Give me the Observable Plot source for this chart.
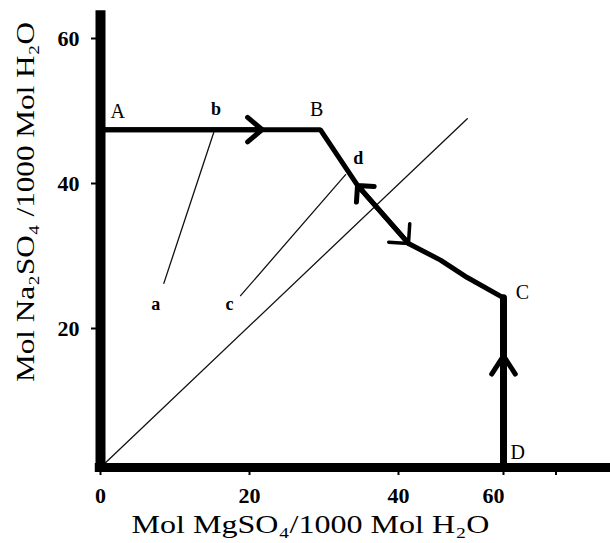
<!DOCTYPE html>
<html><head><meta charset="utf-8">
<script src="https://cdn.jsdelivr.net/npm/d3@7"></script>
<script src="https://cdn.jsdelivr.net/npm/@observablehq/plot@0.6"></script>
<style>body{margin:0;background:#fff} svg{display:block;background:#fff}</style>
</head><body><div id="chart"></div>
<script>
// ---- data ----
const xTicks = [0, 20, 40];
const xTickLast = [60];
const xTickMarks = [0, 20, 40, 60, 70];
const yTicks = [20, 40, 60];
const xTitle = "Mol MgSO₄/1000 Mol H₂O";
const yTitle = "Mol Na₂SO₄ /1000 Mol H₂O";

// crystallisation path A -> B -> C -> D  (x: MgSO4, y: Na2SO4)
const pathX = [0, 29.5, 34.5, 41.9, 48.0, 53.1, 60];
const pathY = [46.6, 46.6, 38.9, 30.9, 28.6, 26.2, 23.4];
const cdX = [60, 60];
const cdY = [23.4, 0];

// thin lines
const diagX = [0, 53.1];
const diagY = [0, 48.1];
const abX = [15.2, 8.5];
const abY = [46.2, 25.4];
const cdLineX = [32.9, 18.8];
const cdLineY = [40.4, 23.7];

// arrows (from -> tip)
const arrowAB = {x1: 0, y1: 46.6, x2: 21.7, y2: 46.6};
const arrowUp = {x1: 41.9, y1: 30.9, x2: 34.5, y2: 38.9};
const arrowDown = {x1: 34.5, y1: 38.9, x2: 41.9, y2: 30.9};
const arrowDC = {x1: 60, y1: 0, x2: 60, y2: 15.4};

// point labels
const upperLabels = ["A", "B", "C", "D"];
const upperX = [2.3, 29.0, 63.6, 62.7];
const upperY = [49.1, 49.4, 24.1, 2.1];
const lowerLabels = ["a", "b", "c", "d"];
const lowerX = [7.4, 15.5, 17.3, 34.6];
const lowerY = [22.5, 49.4, 22.5, 42.6];

const seq = (arr) => arr.map((_, i) => i);

const chart = Plot.plot({
  width: 610,
  height: 543,
  marginLeft: 96,
  marginRight: 0,
  marginTop: 10,
  marginBottom: 72,
  style: {fontFamily: "'Liberation Serif', 'Times New Roman', serif", fontSize: "22px", fontWeight: "bold", color: "#000", background: "#fff"},
  x: {type: "linear", domain: [0, 40, 60], range: [100, 398, 503]},
  y: {type: "linear", domain: [0, 60], range: [467, 32]},
  marks: [
    // thin guide lines
    Plot.line(seq(diagX), {x: i => diagX[i], y: i => diagY[i], stroke: "#111", strokeWidth: 1.3}),
    Plot.line(seq(abX), {x: i => abX[i], y: i => abY[i], stroke: "#111", strokeWidth: 1.3}),
    Plot.line(seq(cdLineX), {x: i => cdLineX[i], y: i => cdLineY[i], stroke: "#111", strokeWidth: 1.3}),
    // main path
    Plot.line(seq(pathX), {x: i => pathX[i], y: i => pathY[i], stroke: "#000", strokeWidth: 5, strokeLinejoin: "miter"}),
    Plot.line(seq(cdX), {x: i => cdX[i], y: i => cdY[i], stroke: "#000", strokeWidth: 7}),
    // arrows
    Plot.arrow([arrowAB], {x1: "x1", y1: "y1", x2: "x2", y2: "y2", stroke: "#000", strokeWidth: 5, headLength: 5.7, headAngle: 80}),
    Plot.arrow([arrowUp], {x1: "x1", y1: "y1", x2: "x2", y2: "y2", stroke: "#000", strokeWidth: 5, headLength: 5, headAngle: 90}),
    Plot.arrow([arrowDown], {x1: "x1", y1: "y1", x2: "x2", y2: "y2", stroke: "#000", strokeWidth: 3.5, headLength: 8.5, headAngle: 90}),
    Plot.arrow([arrowDC], {x1: "x1", y1: "y1", x2: "x2", y2: "y2", stroke: "#000", strokeWidth: 5, headLength: 6.5, headAngle: 66}),
    // axis lines
    Plot.ruleX([0], {y1: 0, y2: 63, stroke: "#000", strokeWidth: 10}),
    Plot.ruleY([0], {x1: -0.7, x2: 83, stroke: "#000", strokeWidth: 9}),
    // ticks and tick labels
    Plot.axisY(yTicks, {anchor: "left", tickSize: 5, tickPadding: 12, dy: 6, strokeWidth: 2, label: null}),
    Plot.axisX(xTickMarks, {anchor: "bottom", tickSize: 4, strokeWidth: 2, tickFormat: () => "", label: null}),
    Plot.axisX(xTicks, {anchor: "bottom", tickSize: 0, tickPadding: 16, label: null}),
    Plot.text(xTickLast, {x: d => d, frameAnchor: "bottom", text: d => String(d), textAnchor: "middle", lineAnchor: "top", dx: -10, dy: 16, fontSize: 22, fontWeight: "bold"}),
    // point labels
    Plot.text(upperLabels, {x: (d, i) => upperX[i], y: (d, i) => upperY[i], text: d => d, fontSize: 20, fontWeight: "normal"}),
    Plot.text(lowerLabels, {x: (d, i) => lowerX[i], y: (d, i) => lowerY[i], text: d => d, fontSize: 18, fontWeight: "bold"}),
    // axis titles
    Plot.text([xTitle], {frameAnchor: "bottom", text: d => d, textAnchor: "middle", lineAnchor: "middle", dx: -43, dy: 53, fontSize: 26, fontWeight: "normal"}),
    Plot.text([yTitle], {frameAnchor: "left", text: d => d, textAnchor: "middle", lineAnchor: "middle", rotate: -90, dx: -71, dy: -39, fontSize: 26, fontWeight: "normal"})
  ]
});

d3.select(chart).selectAll("text")
  .filter(function () { return this.textContent === xTitle || this.textContent === yTitle; })
  .attr("textLength", function () { return this.textContent === xTitle ? 358 : 360; })
  .attr("lengthAdjust", "spacingAndGlyphs");

document.getElementById("chart").appendChild(chart);
</script>
</body></html>
